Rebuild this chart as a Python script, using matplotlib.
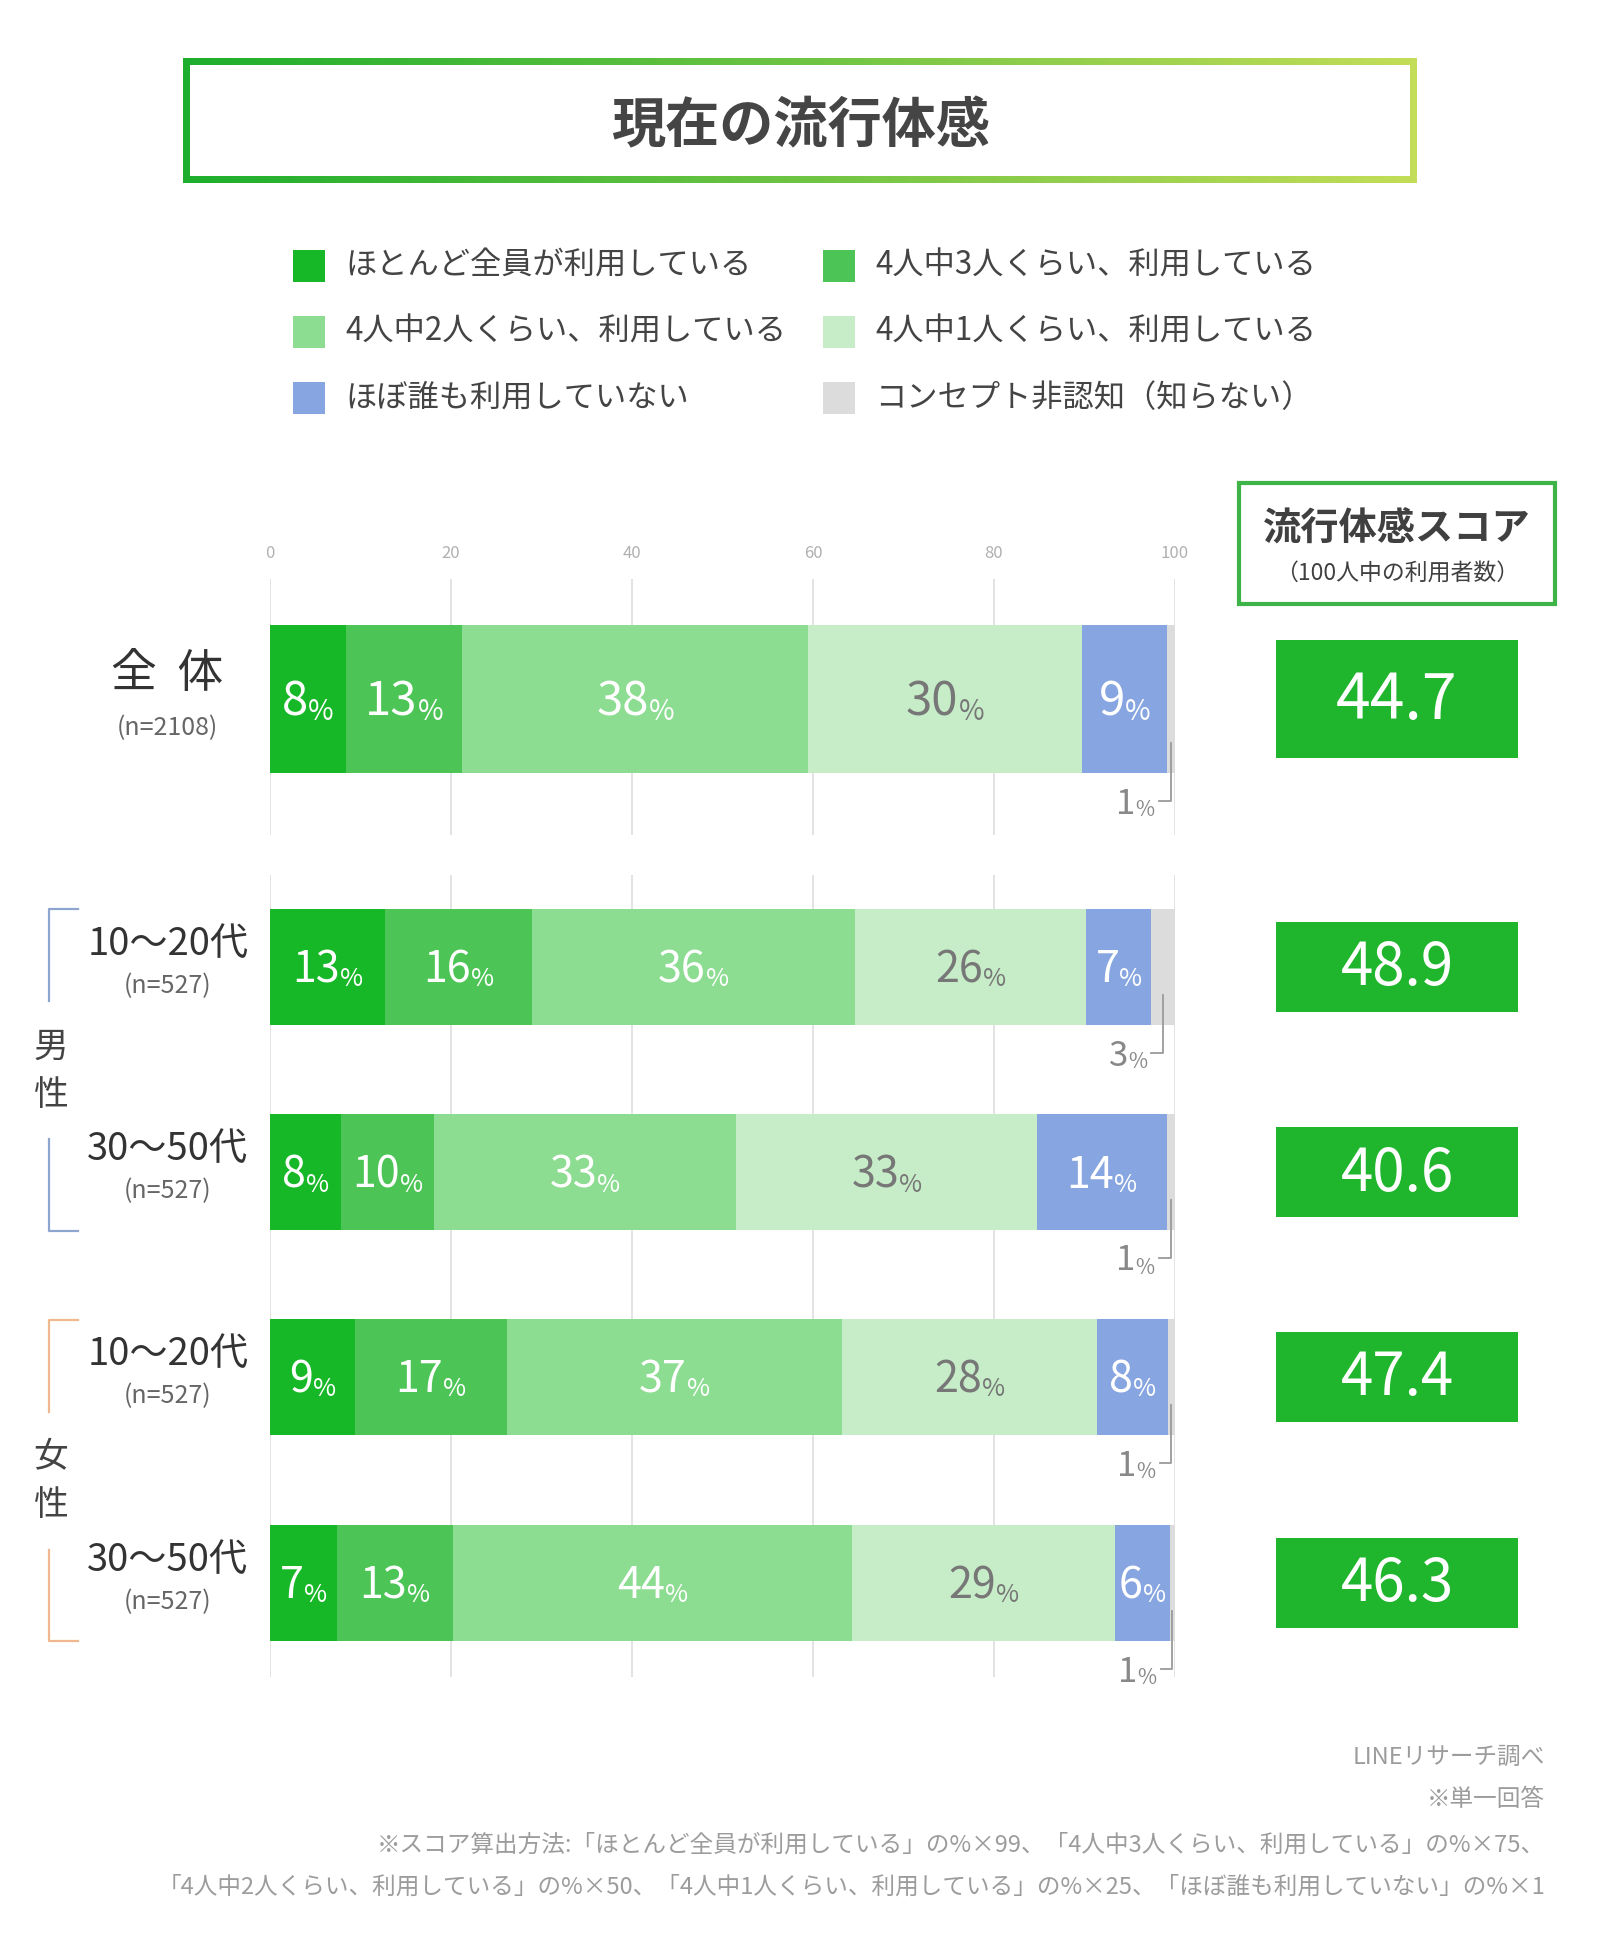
import matplotlib
matplotlib.use('Agg')
import matplotlib.pyplot as plt
import numpy as np
from matplotlib.patches import Rectangle
from matplotlib.colors import LinearSegmentedColormap

plt.rcParams['font.family'] = ['Noto Sans CJK JP', 'DejaVu Sans']

# ---------------- data ----------------
title = "現在の流行体感"
categories = ["ほとんど全員が利用している", "4人中3人くらい、利用している",
              "4人中2人くらい、利用している", "4人中1人くらい、利用している",
              "ほぼ誰も利用していない", "コンセプト非認知（知らない）"]
group_labels = ["全  体", "10～20代", "30～50代", "10～20代", "30～50代"]
n_labels = ["(n=2108)", "(n=527)", "(n=527)", "(n=527)", "(n=527)"]
overall = [8.4, 12.8, 38.3, 30.2, 9.4, 0.9]
male_young = [12.7, 16.3, 35.6, 25.6, 7.2, 2.6]
male_old = [7.9, 10.2, 33.4, 33.3, 14.3, 0.9]
female_young = [9.4, 16.8, 37.0, 28.2, 7.8, 0.8]
female_old = [7.4, 12.8, 44.1, 29.1, 6.0, 0.6]
scores = [44.7, 48.9, 40.6, 47.4, 46.3]
x_ticks = [0, 20, 40, 60, 80, 100]
score_title = "流行体感スコア"
score_sub = "（100人中の利用者数）"
footnotes = ["LINEリサーチ調べ", "※単一回答",
             "※スコア算出方法:「ほとんど全員が利用している」の%×99、「4人中3人くらい、利用している」の%×75、",
             "「4人中2人くらい、利用している」の%×50、「4人中1人くらい、利用している」の%×25、「ほぼ誰も利用していない」の%×1"]

rows = [overall, male_young, male_old, female_young, female_old]

# ---------------- style / layout ----------------
colors = ['#17b827', '#4cc556', '#8cdc91', '#c6edc8', '#87a5e0', '#dcdcdc']
text_colors = ['white', 'white', 'white', '#777777', 'white']
W, H = 1600, 1941
row_y = [699, 967, 1172, 1377, 1583]
row_h = [148, 116, 116, 116, 116]
num_size = [34, 31, 31, 31, 31]
pct_size = [20, 18, 18, 18, 18]

fig = plt.figure(figsize=(W / 100, H / 100), dpi=100)

# background axes in pixel coordinates
bg = fig.add_axes([0, 0, 1, 1], zorder=0)
bg.set_xlim(0, W)
bg.set_ylim(H, 0)
bg.axis('off')

# title box with gradient border
cmap = LinearSegmentedColormap.from_list('g', ['#1eae2d', '#6ec443', '#c3dd58'])
bg.imshow(np.linspace(0, 1, 256).reshape(1, -1), cmap=cmap, extent=(183, 1417, 183, 58),
          aspect='auto', zorder=1)
bg.add_patch(Rectangle((190, 65), 1220, 111, facecolor='white', edgecolor='none', zorder=2))
bg.set_xlim(0, W)
bg.set_ylim(H, 0)
bg.text(800, 127, title, ha='center', va='center', fontsize=39, fontweight='bold',
        color='#454545', zorder=3)

# legend
leg_x = [293, 823]
leg_y = [266, 332, 398]
for i, cat in enumerate(categories):
    cx = leg_x[i % 2]
    cy = leg_y[i // 2]
    bg.add_patch(Rectangle((cx, cy - 16), 32, 32, facecolor=colors[i], edgecolor='none'))
    bg.text(cx + 52, cy, cat, ha='left', va='center', fontsize=22.5, color='#444444')

# score header box
bg.add_patch(Rectangle((1239, 483), 316, 121, facecolor='white', edgecolor='#3db348', lw=3))
bg.text(1397, 529, score_title, ha='center', va='center', fontsize=27.5, fontweight='bold',
        color='#404040')
bg.text(1397, 573, score_sub, ha='center', va='center', fontsize=16.5, color='#404040')

# left labels
for i, (g, n) in enumerate(zip(group_labels, n_labels)):
    if i == 0:
        bg.text(167, 674, g, ha='center', va='center', fontsize=33, color='#333333')
        bg.text(167, 728, n, ha='center', va='center', fontsize=18, color='#666666')
    else:
        bg.text(168, row_y[i] - 23, g, ha='center', va='center', fontsize=27.5, color='#333333')
        bg.text(168, row_y[i] + 19, n, ha='center', va='center', fontsize=18, color='#666666')

# gender labels + brackets
for (a, b, lab_y, col, txt) in [(909, 1231, 1071, '#8ea6cf', "男性"),
                                  (1320, 1641, 1482, '#f1b88f', "女性")]:
    bg.plot([78, 49, 49], [a, a, lab_y - 70], color=col, lw=1.6)
    bg.plot([49, 49, 78], [lab_y + 68, b, b], color=col, lw=1.6)
    bg.text(51, lab_y - 24, txt[0], ha='center', va='center', fontsize=25, color='#444444')
    bg.text(51, lab_y + 24, txt[1], ha='center', va='center', fontsize=25, color='#444444')

# footnotes
for t, y in zip(footnotes, [1757, 1800, 1845, 1887]):
    bg.text(1545, y, t, ha='right', va='center', fontsize=17, color='#9c9c9c')

# ---------------- bar axes ----------------
ax = fig.add_axes([270 / W, 0, 905 / W, 1], zorder=1)
ax.patch.set_alpha(0)
ax.set_xlim(0, 100)
ax.set_ylim(H, 0)
ax.axis('off')

for xt in x_ticks:
    ax.vlines(xt, 579, 835, color='#e0e0e0', lw=1.3, zorder=0)
    ax.vlines(xt, 875, 1677, color='#e0e0e0', lw=1.3, zorder=0)
    ax.text(xt, 554, str(xt), ha='center', va='center', fontsize=12, color='#b0b0b0')

pairs = []


def label_pair(x, yc, num, size, psize, color, mode):
    em = size * 100 / 72
    t1 = ax.text(x, yc + 0.36 * em, num, ha='left', va='baseline', fontsize=size, color=color,
                 zorder=5)
    t2 = ax.annotate('%', xy=(1, 0), xycoords=t1, ha='left', va='bottom', fontsize=psize,
                     color=color, zorder=5)
    pairs.append((t1, t2, x, mode))


for i, vals in enumerate(rows):
    left = 0.0
    for j, v in enumerate(vals):
        ax.barh(row_y[i], v, left=left, height=row_h[i], color=colors[j], edgecolor='none',
                zorder=2)
        if j < 5:
            label_pair(left + v / 2, row_y[i], str(int(round(v))), num_size[i], pct_size[i],
                       text_colors[j], 'center')
        else:
            xc = left + v / 2
            bottom = row_y[i] + row_h[i] / 2
            ly = bottom + 28
            ax.plot([xc, xc, xc - 1.3], [bottom - 30, ly, ly], color='#9a9a9a', lw=1.3, zorder=4)
            label_pair(xc - 1.8, ly, str(int(round(v))), 25, 15, '#888888', 'right')
        left += v

# ---------------- score axes ----------------
sx = fig.add_axes([1276 / W, 0, 242 / W, 1], zorder=1)
sx.patch.set_alpha(0)
sx.set_xlim(0, 1)
sx.set_ylim(H, 0)
sx.axis('off')
for i, s in enumerate(scores):
    hgt = row_h[i] * (0.80 if i == 0 else 0.77)
    sx.barh(row_y[i], 1, left=0, height=hgt, color='#1fb52c', edgecolor='none')
    sx.text(0.5, row_y[i] + 2, f"{s:.1f}", ha='center', va='center',
            fontsize=45 if i == 0 else 42, color='white')

# re-center number + % pairs
fig.canvas.draw()
for t1, t2, x, mode in pairs:
    b1 = t1.get_window_extent()
    b2 = t2.get_window_extent()
    w = b2.x1 - b1.x0
    dx = ax.transData.transform((x, 0))[0]
    target = dx - w / 2 if mode == 'center' else dx - w
    nx = ax.transData.inverted().transform((target, 0))[0]
    t1.set_x(nx)

fig.savefig('out.png', dpi=100)
